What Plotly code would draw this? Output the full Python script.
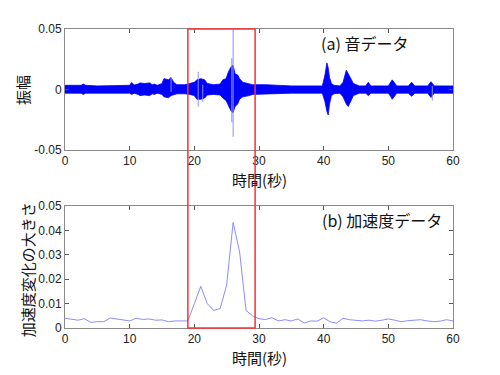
import plotly.graph_objects as go

# ---- audio envelope ----
env_t = [0, 2.5, 2.8, 3.2, 5, 8, 10, 10.3, 10.7, 11.3, 11.6, 12.3, 13.1, 13.5, 13.8, 14.3,
         15.0, 15.3, 16.0, 16.4, 16.8, 17.3, 18.5, 19.3, 20.0, 20.4, 21.0, 21.6, 22.0, 23.0,
         24.0, 24.4, 24.9, 25.3, 25.7, 26.0, 26.3, 26.7, 27.0, 27.5, 28.5, 29.0, 31, 35,
         39.8, 40.2, 40.5, 40.7, 40.9, 41.2, 41.6, 42.5, 43.0, 43.5, 43.8, 44.2, 44.6, 45.5,
         46.5, 46.9, 47.3, 50.0, 50.4, 50.6, 50.9, 51.3, 53.1, 53.6, 54.1, 56.1, 56.6, 57.1,
         58, 60]
env_hi = [.0035, .0035, .0045, .0035, .003, .0035, .0035, .0058, .0038, .0045, .0055, .005,
          .0055, .004, .0045, .0035, .005, .009, .008, .01, .006, .004, .004, .005, .006,
          .008, .009, .008, .005, .004, .0045, .008, .009, .015, .019, .02, .013, .012, .009,
          .006, .005, .004, .004, .003, .003, .012, .022, .018, .01, .005, .0035, .003, .006,
          .016, .013, .009, .005, .003, .003, .006, .003, .003, .007, .008, .006, .003, .003,
          .006, .003, .003, .0065, .003, .003, .003]
env_lo = [-.003, -.003, -.004, -.003, -.003, -.003, -.003, -.004, -.003, -.004, -.005, -.0045,
          -.005, -.0035, -.004, -.003, -.004, -.006, -.0068, -.005, -.004, -.0035, -.0035,
          -.004, -.005, -.008, -.008, -.007, -.0045, -.004, -.0045, -.007, -.009, -.014,
          -.018, -.019, -.014, -.012, -.008, -.006, -.005, -.004, -.0035, -.003, -.003, -.01,
          -.018, -.021, -.012, -.005, -.0035, -.003, -.006, -.012, -.014, -.01, -.005, -.003,
          -.003, -.005, -.003, -.003, -.006, -.008, -.006, -.003, -.003, -.0055, -.003, -.003,
          -.0065, -.003, -.003, -.003]

# isolated spikes in the audio trace
spike_t = [16.4, 20.6, 21.3, 25.8, 26.0, 56.8]
spike_hi = [0.010, 0.0147, 0.004, 0.026, 0.05, 0.003]
spike_lo = [-0.002, -0.014, -0.010, -0.027, -0.039, -0.009]

# ---- acceleration data ----
acc_t = list(range(0, 61))
acc_v = [0.0040, 0.0036, 0.0032, 0.0038, 0.0023, 0.0026, 0.0026, 0.0041, 0.0038, 0.0035,
         0.0029, 0.0040, 0.0035, 0.0037, 0.0032, 0.0033, 0.0026, 0.0029, 0.0028, 0.0029,
         0.0100, 0.0171, 0.0100, 0.0072, 0.0080, 0.0176, 0.0433, 0.0312, 0.0072, 0.0050,
         0.0038, 0.0035, 0.0042, 0.0029, 0.0034, 0.0029, 0.0037, 0.0020, 0.0029, 0.0028,
         0.0042, 0.0025, 0.0020, 0.0040, 0.0034, 0.0032, 0.0029, 0.0032, 0.0028, 0.0032,
         0.0037, 0.0032, 0.0026, 0.0030, 0.0032, 0.0034, 0.0029, 0.0026, 0.0028, 0.0034,
         0.0029]

box_x = [19, 29.4]
x_ticks = [0, 10, 20, 30, 40, 50, 60]
top_ticks = [-0.05, 0, 0.05]
top_ticklabels = ["-0.05", "0", "0.05"]
bot_ticks = [0, 0.01, 0.02, 0.03, 0.04, 0.05]
bot_ticklabels = ["0", "0.01", "0.02", "0.03", "0.04", "0.05"]

BLUE = "#0000ff"
LIGHT = "#8c8cff"
FRAME = "#8a8a8a"
CJK = "Noto Sans CJK JP"
NUM = "Liberation Sans, Arial, sans-serif"

fig = go.Figure()

# envelope polygon
fig.add_trace(go.Scatter(
    x=env_t + env_t[::-1], y=env_hi + env_lo[::-1], fill="toself",
    fillcolor=BLUE, line=dict(color=BLUE, width=0.8), mode="lines",
    xaxis="x", yaxis="y", hoverinfo="skip", showlegend=False))

sx, sy = [], []
for t, h, l in zip(spike_t, spike_hi, spike_lo):
    sx += [t, t, None]
    sy += [l, h, None]
fig.add_trace(go.Scatter(x=sx, y=sy, mode="lines", line=dict(color=LIGHT, width=1),
                         xaxis="x", yaxis="y", showlegend=False, hoverinfo="skip"))

fig.add_trace(go.Scatter(x=acc_t, y=acc_v, mode="lines", line=dict(color=LIGHT, width=1),
                         xaxis="x2", yaxis="y2", showlegend=False))

axis_common = dict(showgrid=False, zeroline=False, showline=True, linecolor=FRAME,
                   linewidth=1, mirror="ticks", ticks="inside", ticklen=4,
                   tickcolor="#555", tickfont=dict(family=NUM, size=12, color="#222"))

fig.update_layout(
    width=500, height=375,
    margin=dict(l=65, r=47, t=29, b=47),
    paper_bgcolor="white", plot_bgcolor="white",
    xaxis=dict(domain=[0, 1], range=[0, 60], tickvals=x_ticks, anchor="y", **axis_common),
    yaxis=dict(domain=[0.595, 1], range=[-0.05, 0.05], tickvals=top_ticks,
               ticktext=top_ticklabels, anchor="x", **axis_common),
    xaxis2=dict(domain=[0, 1], range=[0, 60], tickvals=x_ticks, anchor="y2", **axis_common),
    yaxis2=dict(domain=[0, 0.408], range=[0, 0.05], tickvals=bot_ticks,
                ticktext=bot_ticklabels, anchor="x2", **axis_common),
)

fig.add_shape(type="rect", xref="x", yref="paper", x0=box_x[0], x1=box_x[1], y0=0, y1=1,
              line=dict(color="#ff3030", width=1.5), fillcolor="rgba(0,0,0,0)")

tfont = dict(family=CJK, size=15, color="#111")
afont = dict(family=CJK, size=16, color="#111")
ann = [
    dict(text="時間(秒)", x=0.5, y=0.495, font=tfont),
    dict(text="時間(秒)", x=0.5, y=-0.1, font=tfont),
    dict(text="振幅", x=-0.108, y=0.796, textangle=-90, font=tfont),
    dict(text="加速度変化の大きさ", x=-0.095, y=0.194, textangle=-90, font=tfont),
    dict(text="(a) 音データ", x=0.772, y=0.953, font=afont),
    dict(text="(b) 加速度データ", x=0.816, y=0.361, font=afont),
]
for a in ann:
    fig.add_annotation(xref="paper", yref="paper", showarrow=False,
                       xanchor="center", yanchor="middle", **a)

fig.write_html("out.html")
